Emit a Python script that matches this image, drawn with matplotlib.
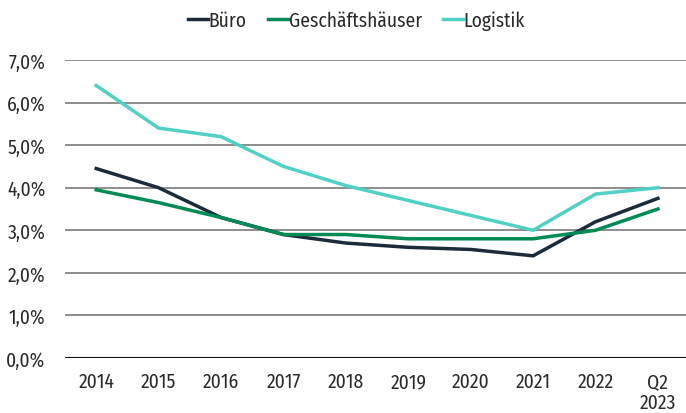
import matplotlib
matplotlib.use("Agg")
import matplotlib.pyplot as plt
from matplotlib import font_manager

categories = ["2014", "2015", "2016", "2017", "2018", "2019", "2020", "2021", "2022", "Q2\n2023"]
buero = [4.45, 4.0, 3.3, 2.9, 2.7, 2.6, 2.55, 2.4, 3.2, 3.75]
geschaeft = [3.95, 3.65, 3.3, 2.9, 2.9, 2.8, 2.8, 2.8, 3.0, 3.5]
logistik = [6.4, 5.4, 5.2, 4.5, 4.05, 3.7, 3.35, 3.0, 3.85, 4.0]
yticks = [0, 1, 2, 3, 4, 5, 6, 7]
ytick_labels = ["0,0%", "1,0%", "2,0%", "3,0%", "4,0%", "5,0%", "6,0%", "7,0%"]

names = {f.name for f in font_manager.fontManager.ttflist}
fam = "DejaVu Sans"
for cand in ["Fira Sans Condensed", "Roboto Condensed", "Liberation Sans Narrow", "Liberation Sans"]:
    if cand in names:
        fam = cand
        break
plt.rcParams["font.family"] = [fam, "DejaVu Sans"]

fig = plt.figure(figsize=(6.86, 4.14), dpi=100)
ax = fig.add_axes([65/686, 1-359/414, (686-65)/686, (359-61)/414])

x = list(range(len(categories)))
for yv in yticks[1:]:
    ax.axhline(yv, color="#7a7a7a", lw=1.2, zorder=1)
ax.axhline(0, color="#111111", lw=1.5, zorder=1)

ax.plot(x, buero, color="#1c2b3a", lw=2.5, label="Büro", zorder=3)
ax.plot(x, geschaeft, color="#008a55", lw=2.5, label="Geschäftshäuser", zorder=3)
ax.plot(x, logistik, color="#4fd1c5", lw=2.5, label="Logistik", zorder=3)

ax.set_xlim(-0.5, 9.45)
ax.set_ylim(0, 7)
ax.set_yticks(yticks)
ax.set_yticklabels(ytick_labels)
ax.set_xticks(x)
ax.set_xticklabels(categories, linespacing=1.05)
ax.tick_params(axis="both", length=0, labelsize=14, colors="#2a2a2a")
ax.tick_params(axis="x", pad=10)
ax.tick_params(axis="y", pad=14)
for s in ax.spines.values():
    s.set_visible(False)

leg = fig.legend(loc="upper center", bbox_to_anchor=(0.52, 1.015), ncol=3, frameon=False,
                 fontsize=14, handlelength=1.0, handletextpad=0.05, columnspacing=1.1)
for t in leg.get_texts():
    t.set_color("#2a2a2a")

fig.savefig("out.png", dpi=100)
